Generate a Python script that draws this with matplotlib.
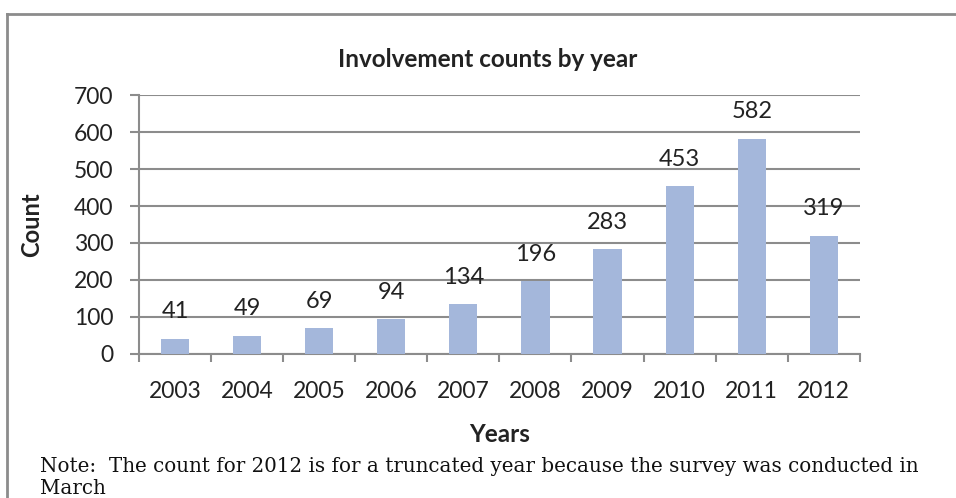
import matplotlib.pyplot as plt
from matplotlib.lines import Line2D
import numpy as np

# involvement counts per survey year
years = ['2003', '2004', '2005', '2006', '2007', '2008', '2009', '2010', '2011', '2012']
counts = [41, 49, 69, 94, 134, 196, 283, 453, 582, 319]

grey = '#8c8c8c'
bar_color = '#a4b7db'
plt.rcParams['font.family'] = ['Lato', 'DejaVu Sans']

fig = plt.figure(figsize=(9.56, 4.98), dpi=100)
ax = fig.add_axes([0.1454, 0.2892, 0.754, 0.52])

x = np.arange(len(years))
ax.bar(x, counts, width=0.39, color=bar_color, zorder=3)
for xi, c in zip(x, counts):
    ax.annotate(str(c), (xi, c), xytext=(0, 12), textcoords='offset points',
                ha='center', va='bottom', fontsize=17, color='#222222', zorder=4)

ax.set_xlim(-0.5, len(years) - 0.5)
ax.set_ylim(0, 700)
ax.set_yticks(range(0, 701, 100))
ax.yaxis.grid(True, color=grey, linewidth=1.5, zorder=0)

ax.set_xticks(x)
ax.set_xticklabels(years)
ax.set_xticks(np.arange(-0.5, len(years)), minor=True)
ax.tick_params(axis='x', which='major', length=0, pad=19.5, labelsize=16.5, colors='#222222')
ax.tick_params(axis='x', which='minor', length=6, width=1.5, color=grey, direction='out')
ax.tick_params(axis='y', length=6.5, width=1.5, color=grey, pad=12, labelsize=16.5, labelcolor='#222222')

for side in ['top', 'right']:
    ax.spines[side].set_visible(False)
for side in ['left', 'bottom']:
    ax.spines[side].set_color(grey)
    ax.spines[side].set_linewidth(1.5)

ax.set_title('Involvement counts by year', fontsize=17.5, fontweight='bold', pad=20,
             x=0.484, color='#222222')
ax.set_xlabel('Years', fontsize=17.5, fontweight='bold', labelpad=15, color='#222222')
ax.set_ylabel('Count', fontsize=17, fontweight='bold', labelpad=22, color='#222222')

# frame around the chart (only top and left edges fall inside the figure)
fig.add_artist(Line2D([7 / 956, 7 / 956], [0, 1 - 14 / 498], transform=fig.transFigure,
                      color=grey, linewidth=2))
fig.add_artist(Line2D([7 / 956, 1], [1 - 14 / 498, 1 - 14 / 498], transform=fig.transFigure,
                      color=grey, linewidth=2))

fig.text(40 / 956, 1 - 477 / 498,
         'Note:  The count for 2012 is for a truncated year because the survey was conducted in\nMarch',
         family='DejaVu Serif', fontsize=14.3, va='center', ha='left', linespacing=1.2, color='#111111')

fig.savefig('out.png', dpi=100)
